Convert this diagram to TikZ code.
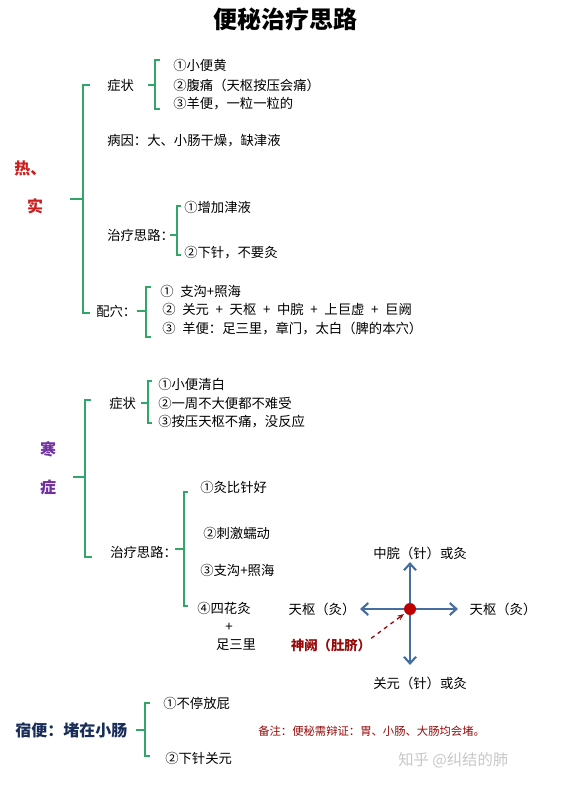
\documentclass[tikz,border=0pt]{standalone}
\usepackage{fontspec}
\setmainfont{Noto Sans CJK SC}
\usetikzlibrary{arrows.meta}
\definecolor{brk}{RGB}{50,165,105}
\definecolor{hotred}{RGB}{205,30,30}
\definecolor{coldpurple}{RGB}{112,48,160}
\definecolor{navy}{RGB}{25,45,90}
\definecolor{arrowblue}{RGB}{70,110,160}
\definecolor{darkred}{RGB}{150,10,10}
\definecolor{wm}{RGB}{200,200,200}
\newcommand{\pl}{\hspace{0.5em}+\hspace{0.5em}}
\tikzset{
  txt/.style={anchor=west, inner sep=0pt, font=\fontsize{10pt}{12pt}\selectfont},
  ctxt/.style={inner sep=0pt, font=\fontsize{10pt}{12pt}\selectfont},
  brace/.style={draw=brk, line width=1.1pt},
  bigtag/.style={inner sep=0pt, font=\fontsize{12pt}{14pt}\selectfont\bfseries},
  bluearrow/.style={draw=arrowblue, line width=2pt, -{Straight Barb[length=5pt,width=9pt,line width=1.6pt]}},
}
\begin{document}
\begin{tikzpicture}[x=0.75pt,y=-0.75pt]
\useasboundingbox (0,0) rectangle (564,785);
\fill[white] (0,0) rectangle (564,785);
% title
\node[inner sep=0pt, font=\fontsize{18pt}{20pt}\selectfont\bfseries] (title) at (285,19) {便秘治疗思路};

% ===== 热、实 =====
\node[bigtag, text=hotred, anchor=west] (hot1) at (14,168) {热、};
\node[bigtag, text=hotred] (hot2) at (35,206) {实};
\draw[brace] (90,85) -- (83,85) -- (83,313) -- (90,313);
\draw[brace] (70,199) -- (83,199);

\node[txt] (zz1) at (107,85) {症状};
\draw[brace] (160,60) -- (155,60) -- (155,109) -- (160,109);
\draw[brace] (148,85) -- (155,85);
\node[txt] (h11) at (173,65) {①小便黄};
\node[txt] (h12) at (173,85) {②腹痛（天枢按压会痛）};
\node[txt] (h13) at (173,104) {③羊便，一粒一粒的};

\node[txt] (by) at (107,141) {病因：大、小肠干燥，缺津液};

\node[txt] (zl1) at (107,235) {治疗思路：};
\draw[brace] (181,206) -- (177,206) -- (177,255) -- (181,255);
\draw[brace] (170,235) -- (177,235);
\node[txt] (h21) at (184,207) {①增加津液};
\node[txt] (h22) at (184,253) {②下针，不要灸};

\node[txt] (px) at (96,311) {配穴：};
\draw[brace] (151,287) -- (146,287) -- (146,337) -- (151,337);
\draw[brace] (137,311) -- (146,311);
\node[txt] (h31) at (160,291) {①\hspace{0.5em}支沟+照海};
\node[txt] (h32) at (162,309) {②\hspace{0.5em}关元\pl 天枢\pl 中脘\pl 上巨虚\pl 巨阙};
\node[txt] (h33) at (162,329) {③\hspace{0.5em}羊便：足三里，章门，太白（脾的本穴）};

% ===== 寒症 =====
\node[bigtag, text=coldpurple] (cold1) at (48,449) {寒};
\node[bigtag, text=coldpurple] (cold2) at (48,487) {症};
\draw[brace] (91,400) -- (85,400) -- (85,557) -- (92,557);
\draw[brace] (73,477) -- (85,477);

\node[txt] (zz2) at (109,403) {症状};
\draw[brace] (152,381) -- (148,381) -- (148,423) -- (152,423);
\draw[brace] (141,403) -- (148,403);
\node[txt] (c11) at (158,384) {①小便清白};
\node[txt] (c12) at (158,403) {②一周不大便都不难受};
\node[txt] (c13) at (158,422) {③按压天枢不痛，没反应};

\node[txt] (zl2) at (110,552) {治疗思路：};
\draw[brace] (188,492) -- (184,492) -- (184,606) -- (188,606);
\draw[brace] (175,549) -- (184,549);
\node[txt] (c21) at (200,487) {①灸比针好};
\node[txt] (c22) at (203,533) {②刺激蠕动};
\node[txt] (c23) at (200,570) {③支沟+照海};
\node[txt] (c24) at (197,608) {④四花灸};
\node[ctxt] (plus) at (229,627) {+};
\node[ctxt] (zsl) at (236,645) {足三里};

% cross diagram
\coordinate (ctr) at (410,609);
\coordinate (up) at (410,562);
\coordinate (dn) at (410,665);
\coordinate (lf) at (360,609);
\coordinate (rt) at (458,609);
\draw[bluearrow] (ctr) -- (up);
\draw[bluearrow] (ctr) -- (dn);
\draw[bluearrow] (ctr) -- (lf);
\draw[bluearrow] (ctr) -- (rt);
\fill[red!75!black] (ctr) circle[radius=4.5pt];
\node[ctxt] (zw) at (420,553) {中脘（针）或灸};
\node[ctxt] (gy) at (420,683) {关元（针）或灸};
\node[ctxt] (tsl) at (322,609) {天枢（灸）};
\node[ctxt] (tsr) at (503,609) {天枢（灸）};
\node[ctxt, text=darkred, font=\fontsize{10pt}{12pt}\selectfont\bfseries] (sq) at (331,645) {神阙（肚脐）};
\draw[darkred, line width=1pt, dashed, -{Stealth[length=5pt,width=4pt]}] (sq.north east) -- (404,614);

% ===== 宿便 =====
\node[bigtag, text=navy, anchor=west] (sb) at (15,730) {宿便：堵在小肠};
\draw[brace] (150,703) -- (145,703) -- (145,756) -- (150,756);
\draw[brace] (136,730) -- (145,730);
\node[txt] (s1) at (163,703) {①不停放屁};
\node[txt] (s2) at (165,758) {②下针关元};
\node[anchor=west, inner sep=0pt, text=darkred, font=\fontsize{8.5pt}{10pt}\selectfont] (bz) at (258,731) {备注：便秘需辩证：胃、小肠、大肠均会堵。};
\node[anchor=west, inner sep=0pt, text=wm, font=\fontsize{11.5pt}{13pt}\selectfont] (wmk) at (398,760) {知乎 @纠结的肺};
\end{tikzpicture}
\end{document}
